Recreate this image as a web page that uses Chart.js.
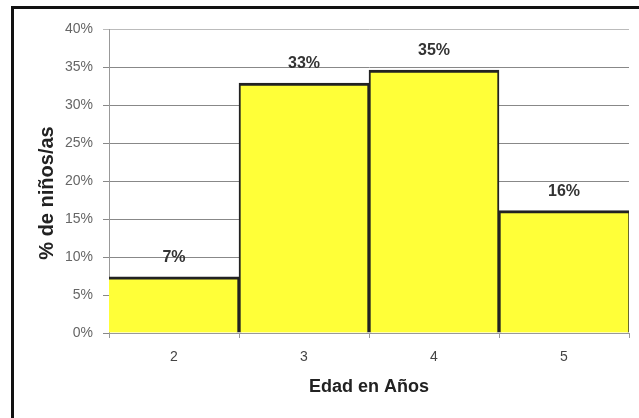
<!DOCTYPE html>
<html>
<head>
<meta charset="utf-8">
<script src="https://cdn.jsdelivr.net/npm/chart.js@4/dist/chart.umd.min.js"></script>
<style>
  html, body { margin: 0; padding: 0; background: #fff; }
  canvas { display: block; }
</style>
</head>
<body>
<canvas id="c" width="639" height="418"></canvas>
<script>
const categories = ["2", "3", "4", "5"];
const percentValues = [7.4, 32.9, 34.6, 16.1];
const yTickValues = [0, 5, 10, 15, 20, 25, 30, 35, 40];
const xTitle = "Edad en Años";
const yTitle = "% de niños/as";

const framePlugin = {
  id: 'frame',
  beforeDraw(chart) {
    const ctx = chart.ctx;
    ctx.save();
    ctx.fillStyle = '#fff';
    ctx.fillRect(0, 0, chart.width, chart.height);
    ctx.fillStyle = '#111';
    ctx.fillRect(11, 6, 3, chart.height - 6);
    ctx.fillRect(11, 6, chart.width - 11, 3);
    ctx.restore();
  },
  afterDraw(chart) {
    const ctx = chart.ctx;
    const area = chart.chartArea;
    ctx.save();
    ctx.translate(47, 193);
    ctx.rotate(-Math.PI / 2);
    ctx.font = 'bold 20px "Liberation Sans", Arial, sans-serif';
    ctx.fillStyle = '#222';
    ctx.textAlign = 'center';
    ctx.textBaseline = 'middle';
    ctx.fillText(yTitle, 0, 0);
    ctx.restore();
  },
  afterDatasetsDraw(chart) {
    const ctx = chart.ctx;
    const meta = chart.getDatasetMeta(0);
    ctx.save();
    ctx.font = 'bold 16px "Liberation Sans", Arial, sans-serif';
    ctx.fillStyle = '#333';
    ctx.textAlign = 'center';
    ctx.textBaseline = 'middle';
    meta.data.forEach((bar, i) => {
      ctx.fillText(Math.round(percentValues[i]) + '%', bar.x, bar.y - 19);
    });
    ctx.restore();
  }
};

new Chart(document.getElementById('c'), {
  type: 'bar',
  data: {
    labels: categories,
    datasets: [{
      data: percentValues,
      backgroundColor: '#ffff38',
      borderColor: '#222',
      borderSkipped: 'bottom',
      borderWidth: (c) => ({
        top: 3,
        left: c.dataIndex === 0 ? 0 : 2,
        right: c.dataIndex === categories.length - 1 ? 1 : 2,
        bottom: 0
      }),
      barPercentage: 1,
      categoryPercentage: 1
    }]
  },
  options: {
    responsive: false,
    animation: false,
    layout: { padding: { top: 29, right: 10, bottom: 0, left: 0 } },
    plugins: { legend: { display: false }, tooltip: { enabled: false } },
    scales: {
      x: {
        offset: true,
        grid: { offset: true, drawOnChartArea: false, color: '#999', tickLength: 5 },
        border: { color: '#999', width: 1 },
        ticks: { color: '#444', padding: 11, font: { family: '"Liberation Sans", Arial, sans-serif', size: 14 } },
        title: {
          display: true, text: xTitle, color: '#222',
          font: { family: '"Liberation Sans", Arial, sans-serif', size: 18, weight: 'bold' },
          padding: { top: 0, bottom: 20 }
        },
        afterFit(scale) { scale.height = 85; }
      },
      y: {
        min: 0, max: 40,
        afterBuildTicks(scale) { scale.ticks = yTickValues.map(v => ({ value: v })); },
        grid: {
          color: (c) => (c.tick && c.tick.value === 40 ? '#bbb' : '#888'),
          tickLength: 6
        },
        border: { color: '#999', width: 1 },
        ticks: {
          color: '#666', padding: 10,
          font: { family: '"Liberation Sans", Arial, sans-serif', size: 14 },
          callback: (v) => v + '%'
        },
        afterFit(scale) { scale.width = 109; }
      }
    }
  },
  plugins: [framePlugin]
});
</script>
</body>
</html>
